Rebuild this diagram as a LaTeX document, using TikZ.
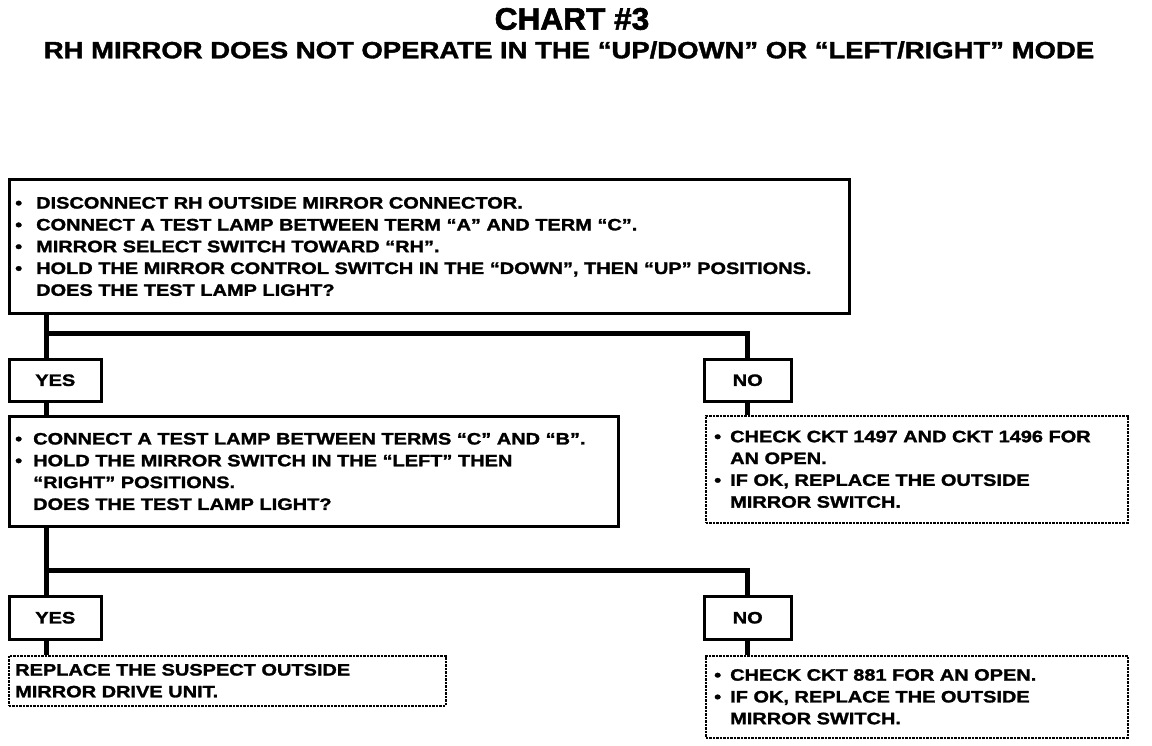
\documentclass[tikz,border=0pt]{standalone}
\usepackage{fontspec}
\newfontfamily\chartfont[FakeStretch=1.21,FakeBold=1.6]{Liberation Sans}
\newfontfamily\headfont[FakeStretch=1.02,FakeBold=2]{Liberation Sans}
\newfontfamily\subheadfont[FakeStretch=1.17,FakeBold=1.6]{Liberation Sans}
\newcommand\itm[1][20pt]{\makebox[#1][l]{\textbullet}}
\newcommand\ind[1][20pt]{\hspace*{#1}}

\begin{document}
\begin{tikzpicture}[x=1pt,y=-1pt,
  conn/.style={line width=5pt},
  mainbox/.style={draw,line width=3pt,fill=white,anchor=north west,inner sep=0pt},
  ansbox/.style={draw,line width=2.5pt,fill=white,anchor=north west,inner sep=0pt,
    font=\chartfont\bfseries\fontsize{16.5}{20}\selectfont},
  dotbox/.style={draw,line width=1.5pt,dash pattern=on 2.5pt off 1pt,fill=white,anchor=north west,inner sep=0pt},
  boxtext/.style={anchor=west,align=left,inner sep=0pt,
    font=\chartfont\bfseries\fontsize{16.5}{21.8}\selectfont}]
  \fill[white] (0,0) rectangle (1152,746);
  \useasboundingbox (0,0) rectangle (1152,746);
  % titulo
  \node[font=\headfont\bfseries\fontsize{31}{34}\selectfont] (title) at (572,19) {CHART \#3};
  \node[font=\subheadfont\bfseries\fontsize{23.5}{26}\selectfont] (subtitle) at (569,50)
    {RH MIRROR DOES NOT OPERATE IN THE “UP/DOWN” OR “LEFT/RIGHT” MODE};
  % primer paso
  \node[mainbox,minimum width=840,minimum height=134] (lampAC) at (8,178) {};
  \node[boxtext] (lampACtxt) at ([xshift=7pt]lampAC.west)
    {\itm[21pt]DISCONNECT RH OUTSIDE MIRROR CONNECTOR.\\
     \itm[21pt]CONNECT A TEST LAMP BETWEEN TERM “A” AND TERM “C”.\\
     \itm[21pt]MIRROR SELECT SWITCH TOWARD “RH”.\\
     \itm[21pt]HOLD THE MIRROR CONTROL SWITCH IN THE “DOWN”, THEN “UP” POSITIONS.\\
     \ind[21pt]DOES THE TEST LAMP LIGHT?};
  \node[ansbox,minimum width=92,minimum height=42] (yesA) at (8,358) {YES};
  \node[ansbox,minimum width=87,minimum height=42] (noA) at (703,358) {NO};
  % segundo paso
  \node[mainbox,minimum width=609,minimum height=110] (lampCB) at (8,415) {};
  \node[boxtext] (lampCBtxt) at ([xshift=7pt]lampCB.west)
    {\itm[18pt]CONNECT A TEST LAMP BETWEEN TERMS “C” AND “B”.\\
     \itm[18pt]HOLD THE MIRROR SWITCH IN THE “LEFT” THEN\\
     \ind[18pt]“RIGHT” POSITIONS.\\
     \ind[18pt]DOES THE TEST LAMP LIGHT?};
  \node[dotbox,minimum width=422,minimum height=107] (chkA) at (705,415) {};
  \node[boxtext] (chkAtxt) at ([xshift=9pt]chkA.west)
    {\itm[16pt]CHECK CKT 1497 AND CKT 1496 FOR\\
     \ind[16pt]AN OPEN.\\
     \itm[16pt]IF OK, REPLACE THE OUTSIDE\\
     \ind[16pt]MIRROR SWITCH.};
  \node[ansbox,minimum width=92,minimum height=43] (yesB) at (8,595) {YES};
  \node[ansbox,minimum width=87,minimum height=43] (noB) at (703,595) {NO};
  % resultados
  \node[dotbox,minimum width=437,minimum height=50] (driveU) at (8,655) {};
  \node[boxtext] (driveUtxt) at ([xshift=7pt]driveU.west)
    {REPLACE THE SUSPECT OUTSIDE\\
     MIRROR DRIVE UNIT.};
  \node[dotbox,minimum width=422,minimum height=82] (chkB) at (705,655) {};
  \node[boxtext] (chkBtxt) at ([xshift=9pt]chkB.west)
    {\itm[16pt]CHECK CKT 881 FOR AN OPEN.\\
     \itm[16pt]IF OK, REPLACE THE OUTSIDE\\
     \ind[16pt]MIRROR SWITCH.};
  % lineas
  \coordinate (jA) at (46,333);
  \coordinate (jB) at (46,570);
  \draw[conn] (lampAC.south -| jA) -- (yesA.north -| jA);
  \draw[conn] (jA) -| (noA.north);
  \draw[conn] (yesA.south -| jA) -- (lampCB.north -| jA);
  \draw[conn] (noA.south) -- (noA.south |- chkA.north);
  \draw[conn] (lampCB.south -| jB) -- (yesB.north -| jB);
  \draw[conn] (jB) -| (noB.north);
  \draw[conn] (yesB.south -| jB) -- (driveU.north -| jB);
  \draw[conn] (noB.south) -- (noB.south |- chkB.north);
\end{tikzpicture}
\end{document}
